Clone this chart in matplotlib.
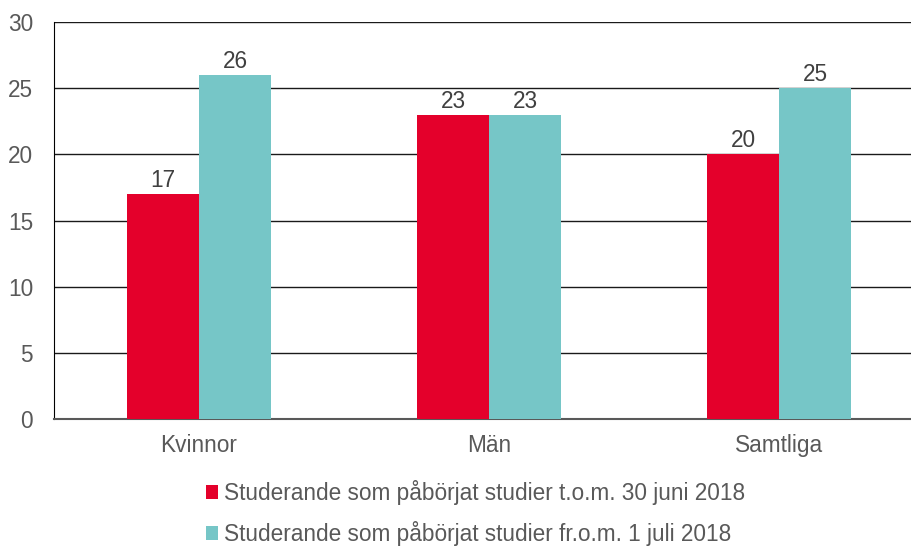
import matplotlib
matplotlib.use("Agg")
import matplotlib.pyplot as plt
import numpy as np

plt.rcParams['font.family'] = ['Liberation Sans', 'DejaVu Sans']

categories = ['Kvinnor', 'Män', 'Samtliga']
before = [17, 23, 20]
after = [26, 23, 25]
series_labels = ['Studerande som påbörjat studier t.o.m. 30 juni 2018',
                 'Studerande som påbörjat studier fr.o.m. 1 juli 2018']
yticks = [0, 5, 10, 15, 20, 25, 30]

red = '#E4002B'
teal = '#76C6C7'
txt = '#595959'
fs = 16.3

fig = plt.figure(figsize=(9.12, 5.47), dpi=100)
ax = fig.add_axes([54 / 912, 1 - 419 / 547, 870 / 912, 397 / 547])

x = np.arange(len(categories))
w = 0.248
b1 = ax.bar(x - w / 2, before, w, color=red, label=series_labels[0], zorder=3)
b2 = ax.bar(x + w / 2, after, w, color=teal, label=series_labels[1], zorder=3)

for bars in (b1, b2):
    for r in bars:
        ax.annotate(f'{r.get_height():.0f}', (r.get_x() + r.get_width() / 2, r.get_height()),
                    xytext=(0, 1.5), textcoords='offset points', ha='center', va='bottom',
                    fontsize=fs, color='#404040')

ax.set_xlim(-0.5, 2.5)
ax.set_ylim(0, 30)
ax.set_yticks(yticks)
ax.set_xticks(x)
ax.set_xticklabels(categories)
ax.tick_params(axis='both', length=0, labelsize=fs, colors=txt)
ax.tick_params(axis='x', pad=11)
ax.tick_params(axis='y', pad=15)
ax.grid(True, axis='y', color='#1a1a1a', linewidth=1.0, zorder=0)
ax.set_axisbelow(True)
for s in ['top', 'right']:
    ax.spines[s].set_visible(False)
ax.spines['left'].set_color('black')
ax.spines['bottom'].set_color('#595959')
ax.spines['bottom'].set_linewidth(1.5)

fig.legend(handles=[b1, b2], loc='center left', bbox_to_anchor=(206 / 912, 1 - 513 / 547),
           frameon=False, fontsize=fs, labelcolor=txt, handlelength=0.55, handleheight=0.55,
           handletextpad=0.25, labelspacing=0.72, borderaxespad=0, borderpad=0)

fig.savefig('out.png', dpi=100)
